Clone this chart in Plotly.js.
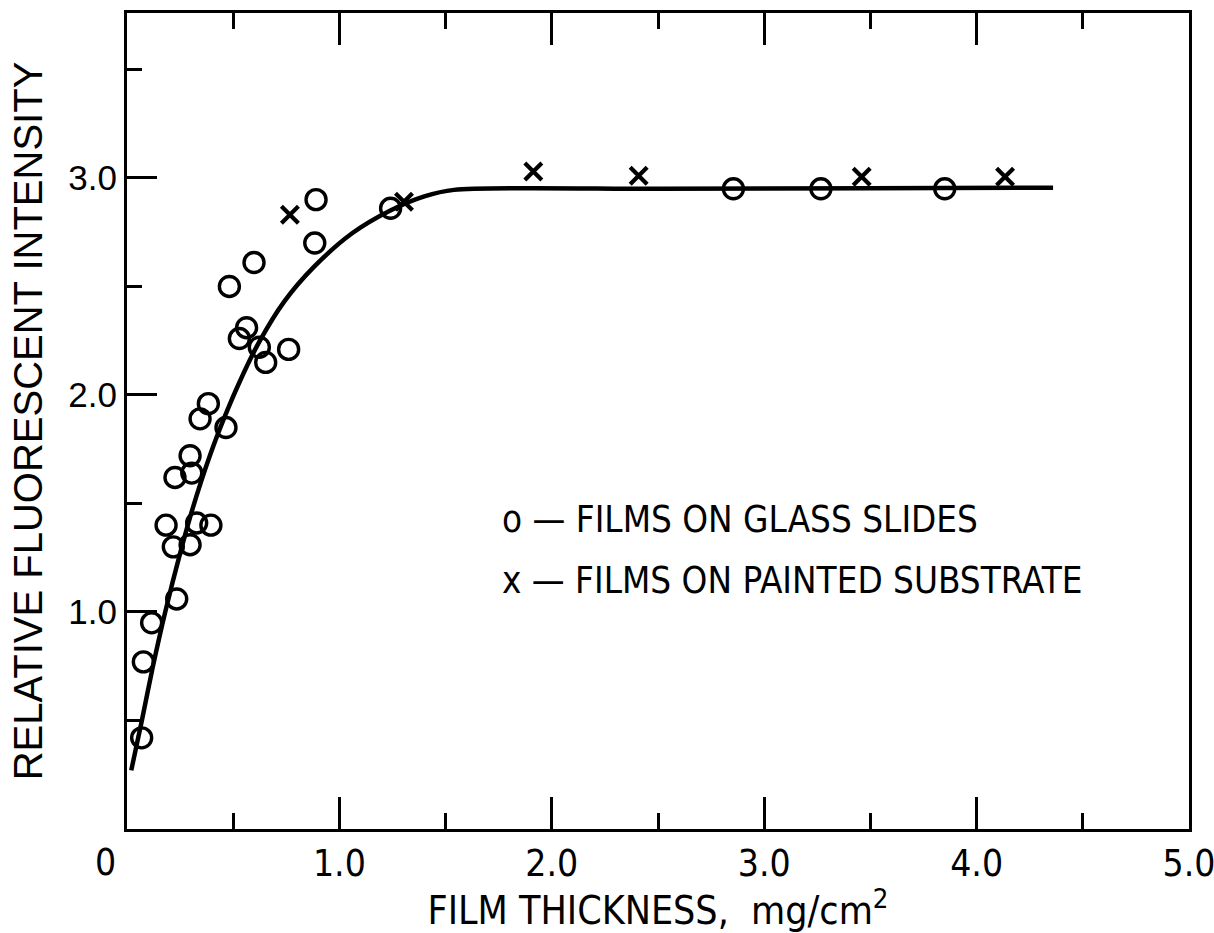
<!DOCTYPE html>
<html>
<head>
<meta charset="utf-8">
<script src="https://cdn.plot.ly/plotly-3.0.1.min.js"></script>
<style>
  html, body { margin: 0; padding: 0; background: #fff; }
  #chart { width: 1214px; height: 933px; }
</style>
</head>
<body>
<div id="chart"></div>
<script>
// Films on glass slides (circles)
const glassX = [0.069, 0.077, 0.116, 0.184, 0.218, 0.226, 0.234, 0.297, 0.305, 0.297, 0.328, 0.344, 0.383, 0.395, 0.466,
                0.482, 0.529, 0.563, 0.598, 0.623, 0.653, 0.761, 0.884, 0.890, 1.241, 2.855, 3.267, 3.850];
const glassY = [0.42, 0.77, 0.95, 1.40, 1.30, 1.62, 1.06, 1.31, 1.64, 1.72, 1.41, 1.89, 1.96, 1.40, 1.85,
                2.50, 2.26, 2.31, 2.61, 2.22, 2.15, 2.21, 2.70, 2.90, 2.86, 2.95, 2.95, 2.95];
// Films on painted substrate (crosses)
const paintX = [0.767, 1.304, 1.913, 2.409, 3.459, 4.134];
const paintY = [2.83, 2.89, 3.03, 3.01, 3.005, 3.005];
// Fitted curve
const curveX = [0.02, 0.07, 0.12, 0.18, 0.25, 0.31, 0.39, 0.46, 0.53, 0.62, 0.74, 0.88, 1.06, 1.24, 1.40, 1.54, 2.50, 3.50, 4.36];
const curveY = [0.27, 0.50, 0.74, 1.00, 1.27, 1.48, 1.72, 1.90, 2.06, 2.24, 2.43, 2.59, 2.745, 2.85, 2.915, 2.945, 2.95, 2.952, 2.955];
// Tick labels
const xTickVals = [1, 2, 3, 4, 5];
const xTickText = ['1.0', '2.0', '3.0', '4.0', '5.0'];
const yTickVals = [1, 2, 3];
const yTickText = ['1.0', '2.0', '3.0'];
const legendLines = ['o — FILMS ON GLASS SLIDES', 'x — FILMS ON PAINTED SUBSTRATE'];

const FONT = '"DejaVu Sans Condensed", "Liberation Sans Narrow", "Liberation Sans", Arial, sans-serif';
const FONT_WIDE = '"Liberation Sans", Arial, sans-serif';

const traces = [
  { x: curveX, y: curveY, mode: 'lines', type: 'scatter',
    line: { color: '#000', width: 4.5, shape: 'spline', smoothing: 0.8 }, hoverinfo: 'skip', showlegend: false },
  { x: glassX, y: glassY, mode: 'markers', type: 'scatter', name: 'FILMS ON GLASS SLIDES',
    marker: { symbol: 'circle-open', size: 20, color: '#000', line: { width: 3.4, color: '#000' } }, showlegend: false },
  { x: paintX, y: paintY, mode: 'markers', type: 'scatter', name: 'FILMS ON PAINTED SUBSTRATE',
    marker: { symbol: 'x-thin-open', size: 17, color: '#000', line: { width: 4.2, color: '#000' } }, showlegend: false }
];

const axisCommon = {
  showgrid: false, zeroline: false, showline: true, linecolor: '#000', linewidth: 3,
  ticks: 'inside', tickcolor: '#000', tickwidth: 3, ticklen: 32,
  ticklabeloverflow: 'allow',
  tickfont: { family: FONT, size: 37, color: '#000' }
};

const layout = {
  width: 1214, height: 933,
  margin: { l: 127, r: 25, t: 13, b: 104 },
  paper_bgcolor: '#fff', plot_bgcolor: '#fff',
  showlegend: false,
  xaxis: Object.assign({}, axisCommon, {
    range: [0, 5], tickmode: 'array', tickvals: xTickVals, ticktext: xTickText,
    mirror: 'ticks', automargin: false,
    minor: { tickmode: 'linear', tick0: 0, dtick: 0.5, ticks: 'inside', ticklen: 16, tickwidth: 3, tickcolor: '#000' },
    title: { text: 'FILM THICKNESS,  mg/cm<sup>2</sup>', font: { family: FONT, size: 39, color: '#000' }, standoff: 4 }
  }),
  yaxis: Object.assign({}, axisCommon, {
    range: [0, 3.76], tickmode: 'array', tickvals: yTickVals, ticktext: yTickText,
    mirror: true, ticklen: 30, automargin: false,
    tickfont: { family: FONT_WIDE, size: 35, color: '#000' },
    minor: { tickmode: 'linear', tick0: 0, dtick: 0.5, ticks: 'inside', ticklen: 15, tickwidth: 3, tickcolor: '#000' },
    title: { text: 'RELATIVE FLUORESCENT INTENSITY', font: { family: FONT_WIDE, size: 40, color: '#000' }, standoff: 14 }
  }),
  annotations: [
    { text: '0', xref: 'paper', yref: 'paper', x: -0.02, y: 0, xanchor: 'center', yanchor: 'top', yshift: -10,
      showarrow: false, font: { family: FONT, size: 37, color: '#000' } },
    { text: legendLines[0], xref: 'x', yref: 'y', x: 1.756, y: 1.424, xanchor: 'left', yanchor: 'middle',
      showarrow: false, font: { family: FONT, size: 36.5, color: '#000' } },
    { text: legendLines[1], xref: 'x', yref: 'y', x: 1.756, y: 1.147, xanchor: 'left', yanchor: 'middle',
      showarrow: false, font: { family: FONT, size: 36.5, color: '#000' } }
  ]
};

Plotly.newPlot('chart', traces, layout, { displayModeBar: false, staticPlot: true });
</script>
</body>
</html>
